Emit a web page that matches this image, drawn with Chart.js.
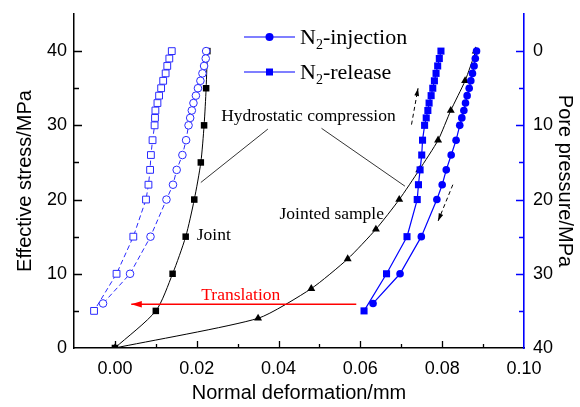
<!DOCTYPE html>
<html>
<head>
<meta charset="utf-8">
<script src="https://cdn.jsdelivr.net/npm/chart.js@4.4.0/dist/chart.umd.min.js"></script>
<style>
  html, body { margin: 0; padding: 0; background: #fff; }
</style>
</head>
<body>
<canvas id="chart" width="580" height="407"></canvas>
<script>
// hydrostatic loading: effective stress (MPa) vs normal deformation (mm)
const jointStress = [0, 5, 10, 15, 20, 25, 30, 35, 40];
const jointDeform = [0, 0.0100, 0.0141, 0.0173, 0.0194, 0.0210, 0.0218, 0.0223, 0.0226];
const sampleStress = [0, 4, 8, 12, 16, 20, 24, 28, 32, 36, 40];
const sampleDeform = [0, 0.0350, 0.0480, 0.0569, 0.0638, 0.0695, 0.0744, 0.0790, 0.0821, 0.0856, 0.0882];

// gas injection / release: pore pressure (MPa) vs normal deformation (mm)
const injPore = [0, 1, 2, 3, 4, 5, 6, 7, 8, 9, 10, 12, 14, 16, 18, 20, 25, 30, 34];
const relPore = [0, 1, 2, 3, 4, 5, 6, 7, 8, 9, 10, 12, 14, 16, 18, 20, 25, 30, 35];
const sampleInjDeform = [0.0884, 0.0881, 0.0878, 0.0874, 0.0870, 0.0866, 0.0861, 0.0857, 0.0853, 0.0848,
                         0.0843, 0.0834, 0.0822, 0.0810, 0.0800, 0.0787, 0.0749, 0.0697, 0.0631];
const sampleRelDeform = [0.0797, 0.0793, 0.0789, 0.0785, 0.0781, 0.0777, 0.0773, 0.0768, 0.0765, 0.0761,
                         0.0757, 0.0752, 0.0750, 0.0746, 0.0742, 0.0739, 0.0714, 0.0664, 0.0609];
const jointInjDeform = [0.0223, 0.0222, 0.0218, 0.0214, 0.0209, 0.0203, 0.0198, 0.0192, 0.0188, 0.0184,
                        0.0180, 0.0174, 0.0165, 0.0151, 0.0142, 0.0126, 0.0087, 0.0037, -0.0029];
const jointRelDeform = [0.0139, 0.0133, 0.0128, 0.0124, 0.0118, 0.0113, 0.0108, 0.0104, 0.0099, 0.0098,
                        0.0097, 0.0092, 0.0088, 0.0086, 0.0082, 0.0076, 0.0045, 0.0004, -0.0051];

const xTicks = [0, 0.02, 0.04, 0.06, 0.08, 0.10];
const stressTicks = [0, 10, 20, 30, 40];
const poreTicks = [0, 10, 20, 30, 40];

const BLUE = "#0000ff";
const SERIF = "'Liberation Serif', 'Times New Roman', serif";
const SANS = "'Liberation Sans', Arial, sans-serif";

const pts = (xs, ys) => xs.map((x, i) => ({x: x, y: ys[i]}));

// inward tick marks, text labels, leader lines and arrows, legend
const decor = {
    id: "decor",
    afterDraw(chart) {
        const {ctx, chartArea: a, scales: {x, y, y2}} = chart;
        const P = (dx, dy) => [x.getPixelForValue(dx), y.getPixelForValue(dy)];
        ctx.save();

        // ticks pointing into the plot
        ctx.lineWidth = 1.3;
        ctx.strokeStyle = "#000";
        ctx.beginPath();
        x.ticks.forEach(t => {
            if (t.value <= x.min + 1e-9 || t.value >= x.max - 1e-9) return;
            const px = Math.round(x.getPixelForValue(t.value)) + 0.5;
            const len = Math.round(t.value * 100) % 2 === 0 ? 7 : 4;
            ctx.moveTo(px, a.bottom);
            ctx.lineTo(px, a.bottom - len);
        });
        y.ticks.forEach(t => {
            if (t.value <= y.min || t.value >= y.max) return;
            const py = Math.round(y.getPixelForValue(t.value)) + 0.5;
            ctx.moveTo(a.left, py);
            ctx.lineTo(a.left + (t.value % 10 === 0 ? 8 : 5), py);
        });
        ctx.stroke();
        ctx.strokeStyle = BLUE;
        ctx.beginPath();
        y2.ticks.forEach(t => {
            if (t.value <= y2.min || t.value >= y2.max) return;
            const py = Math.round(y2.getPixelForValue(t.value)) + 0.5;
            ctx.moveTo(a.right, py);
            ctx.lineTo(a.right - (t.value % 10 === 0 ? 8 : 5), py);
        });
        ctx.stroke();

        const arrow = (p1, p2, color, width, dash, head) => {
            ctx.strokeStyle = color;
            ctx.fillStyle = color;
            ctx.lineWidth = width;
            ctx.setLineDash(dash);
            ctx.beginPath();
            ctx.moveTo(p1[0], p1[1]);
            ctx.lineTo(p2[0], p2[1]);
            ctx.stroke();
            ctx.setLineDash([]);
            const ang = Math.atan2(p2[1] - p1[1], p2[0] - p1[0]);
            ctx.beginPath();
            ctx.moveTo(p2[0], p2[1]);
            ctx.lineTo(p2[0] - head * Math.cos(ang - 0.3), p2[1] - head * Math.sin(ang - 0.3));
            ctx.lineTo(p2[0] - head * Math.cos(ang + 0.3), p2[1] - head * Math.sin(ang + 0.3));
            ctx.closePath();
            ctx.fill();
        };

        // translation arrow between the two pore-pressure groups
        arrow(P(0.0590, 5.9), P(0.0040, 5.9), "#ff0000", 1.6, [], 11);
        ctx.fillStyle = "#ff0000";
        ctx.font = "17.5px " + SERIF;
        ctx.textAlign = "left";
        ctx.textBaseline = "alphabetic";
        ctx.fillText("Translation", ...P(0.0211, 6.4));

        // loading direction arrows
        arrow(P(0.0725, 30.1), P(0.0741, 35.0), "#000", 1, [4, 3], 8);
        arrow(P(0.0826, 22.0), P(0.0790, 17.1), "#000", 1, [4, 3], 8);

        // leader lines
        ctx.strokeStyle = "#000";
        ctx.lineWidth = 0.8;
        ctx.beginPath();
        ctx.moveTo(...P(0.0374, 29.5));
        ctx.lineTo(...P(0.0210, 22.3));
        ctx.moveTo(...P(0.0505, 29.6));
        ctx.lineTo(...P(0.0709, 21.8));
        ctx.stroke();

        ctx.fillStyle = "#000";
        ctx.font = "17.5px " + SERIF;
        ctx.textAlign = "center";
        ctx.textBaseline = "middle";
        ctx.fillText("Hydrostatic compression", ...P(0.0473, 31.2));
        ctx.fillText("Jointed sample", ...P(0.0530, 18.0));
        ctx.textAlign = "left";
        ctx.fillText("Joint", ...P(0.0200, 15.2));

        // legend
        const rows = [
            {y: 37, text: "-injection", marker: "circle"},
            {y: 72, text: "-release", marker: "rect"}
        ];
        rows.forEach(r => {
            ctx.strokeStyle = BLUE;
            ctx.fillStyle = BLUE;
            ctx.lineWidth = 1.2;
            ctx.beginPath();
            ctx.moveTo(244, r.y);
            ctx.lineTo(295, r.y);
            ctx.stroke();
            if (r.marker === "circle") {
                ctx.beginPath();
                ctx.arc(269.5, r.y, 4, 0, Math.PI * 2);
                ctx.fill();
            } else {
                ctx.fillRect(266, r.y - 3.5, 7, 7);
            }
            ctx.fillStyle = "#000";
            ctx.textAlign = "left";
            ctx.textBaseline = "alphabetic";
            ctx.font = "22px " + SERIF;
            ctx.fillText("N", 300, r.y + 7);
            const nw = ctx.measureText("N").width;
            ctx.font = "14px " + SERIF;
            ctx.fillText("2", 300 + nw, r.y + 12);
            const sw = ctx.measureText("2").width;
            ctx.font = "22px " + SERIF;
            ctx.fillText(r.text, 300 + nw + sw, r.y + 7);
        });
        ctx.restore();
    }
};

const tickFont = {family: SANS, size: 18};
const titleFont = {family: SANS, size: 20};

// fixed axis boxes so the plot area sits where it should
const fitY = w => s => { s.width = w; s.paddingTop = 0; s.paddingBottom = 0; };
const fitX = s => { s.height = 59; s.paddingLeft = 0; s.paddingRight = 0; };

new Chart(document.getElementById("chart"), {
    type: "scatter",
    data: {
        datasets: [
            {
                label: "N2-injection",
                data: pts(sampleInjDeform, injPore),
                yAxisID: "y2",
                showLine: true,
                borderColor: BLUE,
                backgroundColor: BLUE,
                borderWidth: 1.2,
                pointStyle: "circle",
                pointRadius: 3.8,
                pointBorderWidth: 0
            },
            {
                label: "N2-release",
                data: pts(sampleRelDeform, relPore),
                yAxisID: "y2",
                showLine: true,
                borderColor: BLUE,
                backgroundColor: BLUE,
                borderWidth: 1.2,
                pointStyle: "rect",
                pointRadius: 5,
                pointBorderWidth: 0
            },
            {
                label: "Joint N2-injection",
                data: pts(jointInjDeform, injPore),
                yAxisID: "y2",
                showLine: true,
                borderColor: "#2a2aff",
                backgroundColor: "#ffffff",
                borderWidth: 1,
                borderDash: [5, 3],
                pointStyle: "circle",
                pointRadius: 3.8,
                pointBorderWidth: 1
            },
            {
                label: "Joint N2-release",
                data: pts(jointRelDeform, relPore),
                yAxisID: "y2",
                showLine: true,
                borderColor: "#2a2aff",
                backgroundColor: "#ffffff",
                borderWidth: 1,
                borderDash: [5, 3],
                pointStyle: "rect",
                pointRadius: 4.8,
                pointBorderWidth: 1
            },
            {
                label: "Joint",
                data: pts(jointDeform, jointStress),
                yAxisID: "y",
                showLine: true,
                tension: 0.25,
                borderColor: "#000",
                backgroundColor: "#000",
                borderWidth: 1,
                pointStyle: "rect",
                pointRadius: 4.6,
                pointBorderWidth: 0
            },
            {
                label: "Jointed sample",
                data: pts(sampleDeform, sampleStress),
                yAxisID: "y",
                showLine: true,
                tension: 0.2,
                borderColor: "#000",
                backgroundColor: "#000",
                borderWidth: 1,
                pointStyle: "triangle",
                pointRadius: 4.6,
                pointBorderWidth: 0
            }
        ]
    },
    options: {
        responsive: false,
        animation: false,
        devicePixelRatio: 1,
        layout: {padding: {top: 14, left: 0, right: 0, bottom: 0}},
        plugins: {legend: {display: false}, tooltip: {enabled: false}},
        scales: {
            x: {
                type: "linear",
                min: -0.01,
                max: 0.10,
                afterFit: fitX,
                afterBuildTicks: s => {
                    s.ticks = [];
                    for (let i = -1; i <= 10; i++) s.ticks.push({value: i / 100});
                },
                grid: {display: false, drawTicks: false},
                border: {display: true, color: "#000", width: 1.5},
                ticks: {
                    font: tickFont,
                    color: "#000",
                    padding: 10,
                    maxRotation: 0,
                    autoSkip: false,
                    callback: v => xTicks.some(t => Math.abs(t - v) < 1e-6) ? v.toFixed(2) : ""
                },
                title: {
                    display: true,
                    text: "Normal deformation/mm",
                    font: titleFont,
                    color: "#000",
                    padding: {top: 0, bottom: 2}
                }
            },
            y: {
                position: "left",
                min: 0,
                max: 45,
                afterFit: fitY(74),
                grid: {display: false, drawTicks: false},
                border: {display: true, color: "#000", width: 1.5},
                ticks: {
                    stepSize: 5,
                    font: tickFont,
                    color: "#000",
                    padding: 7,
                    autoSkip: false,
                    callback: v => stressTicks.includes(v) ? String(v) : ""
                },
                title: {
                    display: true,
                    text: "Effective stress/MPa",
                    font: titleFont,
                    color: "#000",
                    padding: {top: 13, bottom: 0}
                }
            },
            y2: {
                position: "right",
                reverse: true,
                min: -5,
                max: 40,
                afterFit: fitY(56),
                grid: {display: false, drawTicks: false},
                border: {display: true, color: BLUE, width: 1.6},
                ticks: {
                    stepSize: 5,
                    font: tickFont,
                    color: "#000",
                    padding: 9,
                    autoSkip: false,
                    callback: v => poreTicks.includes(v) ? String(v) : ""
                },
                title: {
                    display: true,
                    text: "Pore pressure/MPa",
                    font: titleFont,
                    color: "#000",
                    padding: {top: 3, bottom: 0}
                }
            }
        }
    },
    plugins: [decor]
});
</script>
</body>
</html>
